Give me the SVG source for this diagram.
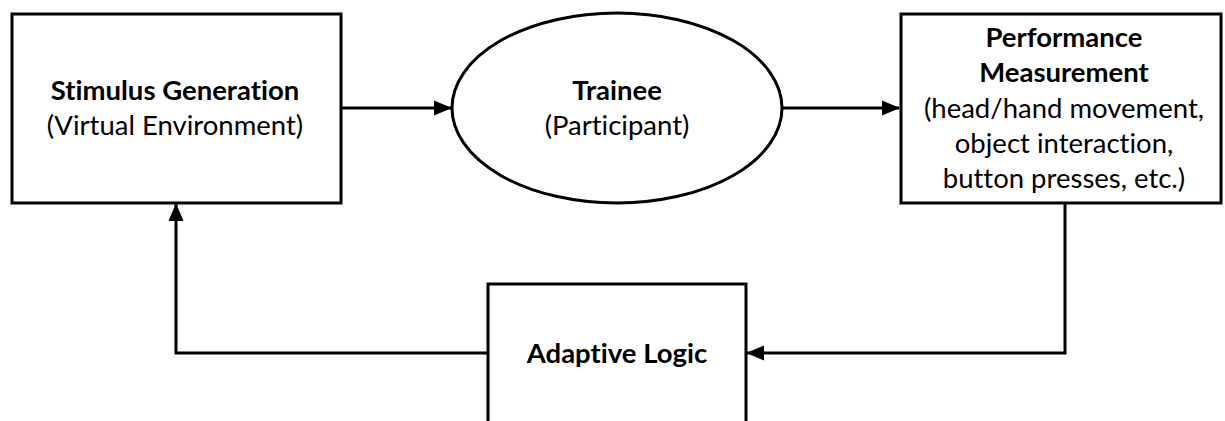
<svg xmlns="http://www.w3.org/2000/svg" width="1225" height="421" viewBox="0 0 1225 421">
<style>
.box{fill:#fff;stroke:#000;stroke-width:3}
.edge{fill:none;stroke:#000;stroke-width:3}
text{font-family:Lato,"Open Sans","Liberation Sans",sans-serif;font-size:27.5px;fill:#000;text-anchor:middle;font-variant-ligatures:none;font-feature-settings:"liga" 0,"dlig" 0}
.b{font-weight:bold}
</style>
<defs>
<marker id="arr" markerUnits="userSpaceOnUse" markerWidth="18" markerHeight="18" viewBox="0 0 18 18" refX="17" refY="9" orient="auto">
<path d="M0,1.5 L18,9 L0,16.5 Z" fill="#000"/>
</marker>
</defs>
<g id="connectors">
<path class="edge" d="M341,108 H451" marker-end="url(#arr)"/>
<path class="edge" d="M782,108 H899" marker-end="url(#arr)"/>
<path class="edge" d="M1065,203 V353 H747" marker-end="url(#arr)"/>
<path class="edge" d="M488,353 H176 V204" marker-end="url(#arr)"/>
</g>
<g id="stimulus">
<rect class="box" x="12" y="14" width="329" height="189"/>
<text x="175" y="100" class="b">Stimulus Generation</text>
<text x="175" y="135">(Virtual Environment)</text>
</g>
<g id="trainee">
<ellipse class="box" cx="617" cy="108" rx="165" ry="95"/>
<text x="617" y="100" class="b">Trainee</text>
<text x="617" y="135">(Participant)</text>
</g>
<g id="performance">
<rect class="box" x="901" y="14" width="320" height="189"/>
<text x="1064" y="47" class="b">Performance</text>
<text x="1064" y="82" class="b">Measurement</text>
<text x="1064" y="118">(head/hand movement,</text>
<text x="1064" y="153">object interaction,</text>
<text x="1064" y="188">button presses, etc.)</text>
</g>
<g id="adaptive">
<path class="box" d="M488,425 V284 H746 V425"/>
<text x="617" y="363" class="b">Adaptive Logic</text>
</g>
</svg>
